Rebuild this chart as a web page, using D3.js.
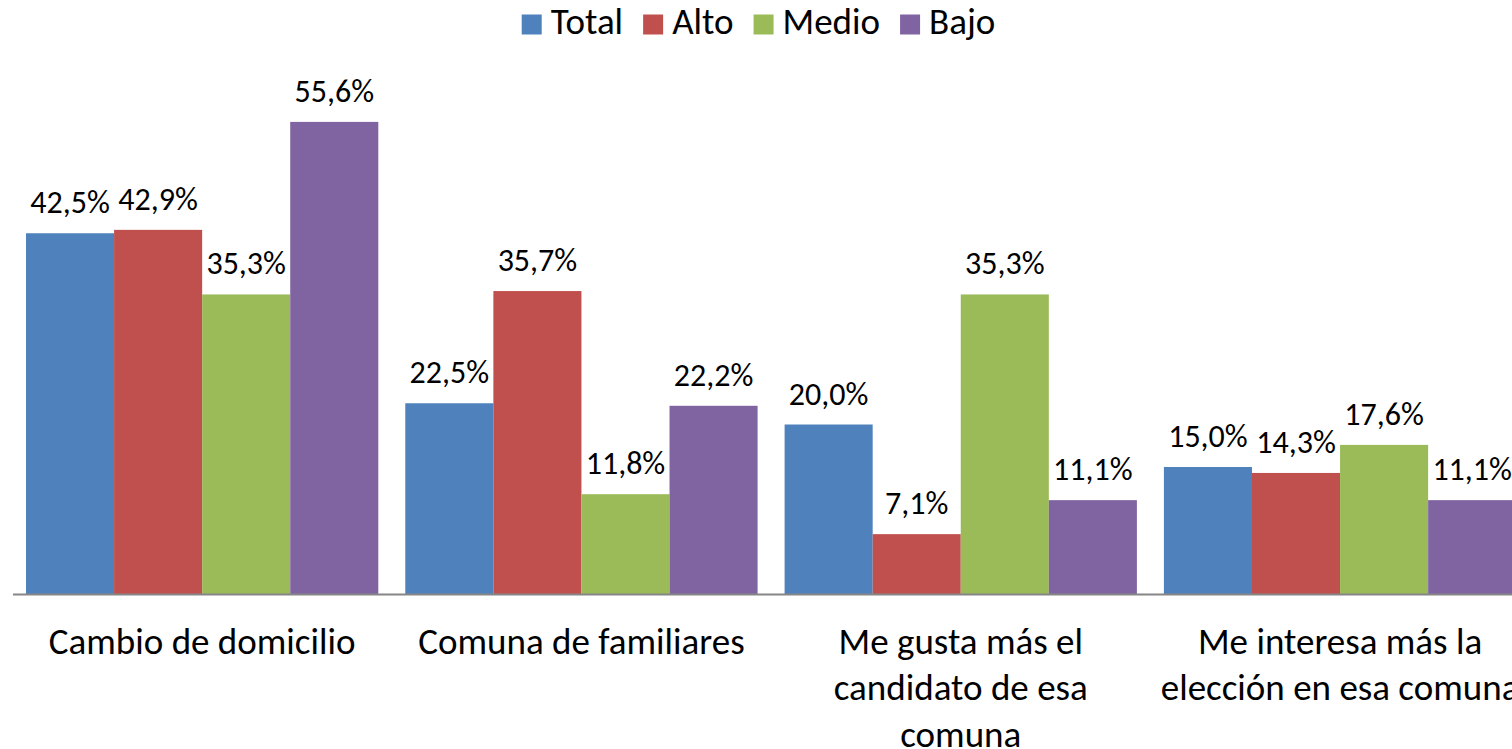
<!DOCTYPE html>
<html>
<head>
<meta charset="utf-8">
<script src="https://cdn.jsdelivr.net/npm/d3@7"></script>
<style>
  html, body { margin: 0; padding: 0; background: #fff; }
  svg { display: block; font-family: Carlito, Calibri, Lato, sans-serif; }
</style>
</head>
<body>
<div id="chart"></div>
<script>
// categories (line breaks as in the original axis labels)
const categories = [
    "Cambio de domicilio",
    "Comuna de familiares",
    "Me gusta más el\ncandidato de esa\ncomuna",
    "Me interesa más la\nelección en esa comuna"
]
const seriesNames = ["Total", "Alto", "Medio", "Bajo"]
const seriesColors = ["#4F81BD", "#C0504D", "#9BBB59", "#8064A2"]

// values per series, in category order (%)
const total = [42.5, 22.5, 20.0, 15.0]
const alto = [42.9, 35.7, 7.1, 14.3]
const medio = [35.3, 11.8, 35.3, 17.6]
const bajo = [55.6, 22.2, 11.1, 11.1]

const seriesValues = [total, alto, medio, bajo]

const width = 1512,
    height = 749;
const baseline = 594.5

const svg = d3.select("#chart").append("svg")
    .attr("width", width)
    .attr("height", height)

// scales
const step = 379.3
const x0 = d3.scaleBand()
    .domain(categories)
    .range([12.5, 12.5 + step * categories.length])
    .padding(0)
const gap = 27
const x1 = d3.scaleBand()
    .domain(seriesNames)
    .range([gap / 2, x0.bandwidth() - gap / 2])
    .padding(0)
const y = d3.scaleLinear()
    .domain([0, 60])
    .range([baseline, baseline - 60 * 8.5])

const fmt = v => d3.format(".1f")(v).replace(".", ",") + "%"

// table built from the arrays
const rows = categories.map((c, i) => ({
    cat: c,
    vals: seriesNames.map((s, j) => ({ series: s, color: seriesColors[j], value: seriesValues[j][i] }))
}))

const groups = svg.append("g")
    .selectAll("g")
    .data(rows)
    .enter().append("g")
    .attr("transform", d => `translate(${x0(d.cat)},0)`)

groups.selectAll("rect")
    .data(d => d.vals)
    .enter().append("rect")
    .attr("x", d => x1(d.series))
    .attr("width", x1.bandwidth())
    .attr("y", d => y(d.value))
    .attr("height", d => y(0) - y(d.value))
    .attr("fill", d => d.color)

groups.selectAll("text.lbl")
    .data(d => d.vals)
    .enter().append("text")
    .attr("class", "lbl")
    .attr("x", d => x1(d.series) + x1.bandwidth() / 2)
    .attr("y", d => y(d.value) - 20)
    .attr("text-anchor", "middle")
    .attr("font-size", 32)
    .attr("fill", "#000")
    .text(d => fmt(d.value))

// category axis line
svg.append("line")
    .attr("x1", 13)
    .attr("x2", width)
    .attr("y1", baseline)
    .attr("y2", baseline)
    .attr("stroke", "#868686")
    .attr("stroke-width", 2)

// category labels
const catLabels = svg.append("g")
    .selectAll("text")
    .data(categories)
    .enter().append("text")
    .attr("text-anchor", "middle")
    .attr("font-size", 37)
    .attr("fill", "#000")
    .attr("transform", d => `translate(${x0(d) + x0.bandwidth() / 2},${baseline + 59})`)

catLabels.selectAll("tspan")
    .data(d => d.split("\n"))
    .enter().append("tspan")
    .attr("x", 0)
    .attr("y", (d, i) => i * 46.5)
    .text(d => d)

// legend, centred at the top
const legend = svg.append("g")
    .attr("class", "legend")
const items = legend.selectAll("g")
    .data(seriesNames)
    .enter().append("g")
items.append("rect")
    .attr("width", 20)
    .attr("height", 20)
    .attr("y", 14.5)
    .attr("fill", (d, i) => seriesColors[i])
items.append("text")
    .attr("x", 29)
    .attr("y", 34)
    .attr("font-size", 37)
    .attr("fill", "#000")
    .text(d => d)

let xpos = 0
items.each(function () {
    const g = d3.select(this)
    g.attr("transform", `translate(${xpos},0)`)
    xpos += 29 + g.select("text").node().getComputedTextLength() + 20
})
const legendWidth = xpos - 20
legend.attr("transform", `translate(${758.5 - legendWidth / 2},0)`)
</script>
</body>
</html>
